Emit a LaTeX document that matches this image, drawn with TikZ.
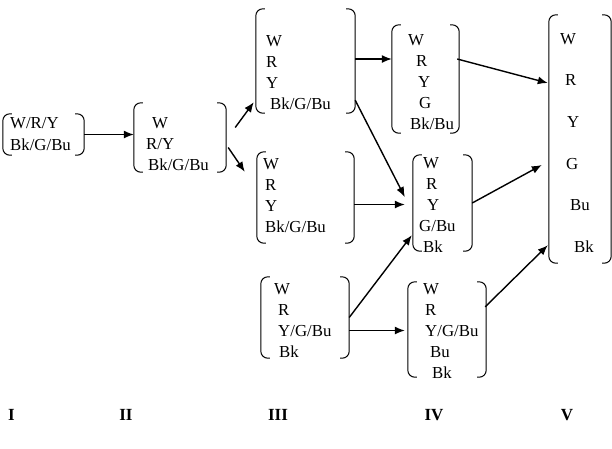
\documentclass[tikz,border=0pt]{standalone}
\usepackage{fontspec}
\setmainfont{Liberation Serif}
\usepackage{tikz}
\usetikzlibrary{arrows.meta,calc,fit}

\begin{document}
\begin{tikzpicture}[
  x=1pt, y=-1pt, >={Latex[length=10pt,width=8pt]},
  grp/.style={inner sep=0pt},
  brk/.style={line width=1pt, rounded corners=7pt},
  lst/.style={anchor=north west, inner sep=0pt, align=left,
              font=\fontsize{16.8}{21}\selectfont},
  stage/.style={anchor=base, inner sep=0pt, font=\fontsize{17}{20}\selectfont\bfseries},
  arr/.style={->, line width=1.4pt}]
\useasboundingbox (0,0) rectangle (612,448);

% bracketed groups
\node[grp, fit={(3,114) (84,155)}]    (I) {};
\node[grp, fit={(134,103) (226,172)}] (II) {};
\node[grp, fit={(256,9) (355,113)}]   (IIIa) {};
\node[grp, fit={(257,152) (354,243)}] (IIIb) {};
\node[grp, fit={(261,277) (349,358)}] (IIIc) {};
\node[grp, fit={(392,25) (459,133)}]  (IVa) {};
\node[grp, fit={(413,155) (472,251)}] (IVb) {};
\node[grp, fit={(408,282) (486,377)}] (IVc) {};
\node[grp, fit={(549,15) (611,263)}]  (V) {};
\foreach \b in {I,II,IIIa,IIIb,IIIc,IVa,IVb,IVc,V}{
  \draw[brk] ([xshift=9pt]\b.north west) -- (\b.north west) -- (\b.south west) -- ([xshift=9pt]\b.south west);
  \draw[brk] ([xshift=-9pt]\b.north east) -- (\b.north east) -- (\b.south east) -- ([xshift=-9pt]\b.south east);
}

% contents
\node[lst] (I-t) at (10,117) {W/R/Y\\[1pt]Bk/G/Bu};
\node[lst] (II-t) at (146,117) {\hspace*{6pt}W\\R/Y\\\hspace*{2pt}Bk/G/Bu};
\node[lst] (IIIa-t) at (266,35) {W\\R\\Y\\\hspace*{4pt}Bk/G/Bu};
\node[lst] (IIIb-t) at (263,158) {W\\\hspace*{2pt}R\\\hspace*{2pt}Y\\\hspace*{2pt}Bk/G/Bu};
\node[lst] (IIIc-t) at (274,283) {W\\\hspace*{4pt}R\\\hspace*{4pt}Y/G/Bu\\\hspace*{5pt}Bk};
\node[lst] (IVa-t) at (408,34) {W\\\hspace*{8pt}R\\\hspace*{10pt}Y\\\hspace*{11pt}G\\\hspace*{2pt}Bk/Bu};
\node[lst] (IVb-t) at (419,157) {\hspace*{4pt}W\\\hspace*{7pt}R\\\hspace*{8pt}Y\\G/Bu\\\hspace*{4pt}Bk};
\node[lst] (IVc-t) at (423,283) {W\\\hspace*{2pt}R\\\hspace*{2pt}Y/G/Bu\\\hspace*{7pt}Bu\\\hspace*{9pt}Bk};
\node[lst] (V-t) at (560,33) {W\\[20.6pt]\hspace*{5pt}R\\[20.6pt]\hspace*{7pt}Y\\[20.6pt]\hspace*{6pt}G\\[20.6pt]\hspace*{10pt}Bu\\[20.6pt]\hspace*{14pt}Bk};

% transitions
\draw[arr] (I.east) -- (I.east -| II.west);
\draw[arr] ($(II.east)+(9,-10)$) -- ($(IIIa.south west)+(-2,-11)$);
\draw[arr] ($(II.east)+(2,10)$) -- ($(IIIb.north west)+(-12,20)$);
\draw[arr] ($(IIIa.east)+(0,-2)$) -- ($(IIIa.east -| IVa.west)+(0,-2)$);
\draw[arr] ($(IIIa.south east)+(0,-13)$) -- ($(IVb.west)+(-8,-6)$);
\draw[arr] ($(IIIb.east)+(0,7)$) -- ($(IIIb.east -| IVb.west)+(-8,7)$);
\draw[arr] (IIIc.east) -- ($(IVb.south west)+(-1,-16)$);
\draw[arr] ($(IIIc.east)+(0,13)$) -- ($(IIIc.east -| IVc.west)+(-3,13)$);
\draw[arr] ($(IVa.east)+(-2,-20)$) -- ($(V.west)+(-1,-56)$);
\draw[arr] (IVb.east) -- ($(V.west)+(-7,26)$);
\draw[arr] ($(IVc.north east)+(-1,25)$) -- ($(V.south west)+(-1,-18)$);

% stages
\foreach \x/\s in {11.5/I,126/II,278/III,434/IV,567/V}
  \node[stage] (st\s) at (\x,420) {\s};
\end{tikzpicture}
\end{document}
